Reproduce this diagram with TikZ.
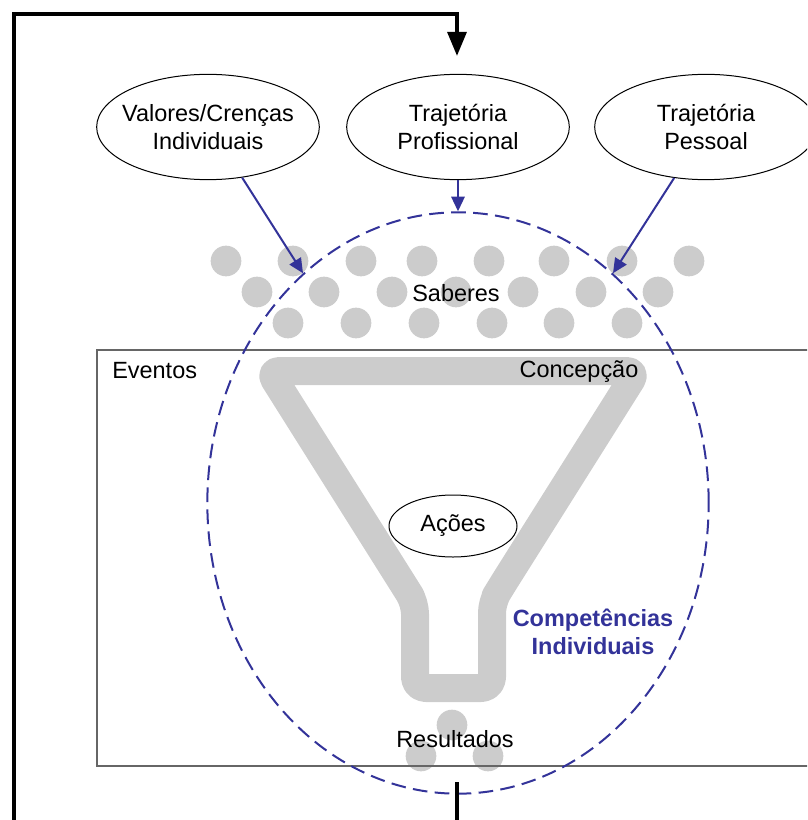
\documentclass[tikz,border=0pt]{standalone}
\usepackage{fontspec}
\setmainfont{Liberation Sans}
\usetikzlibrary{shapes.geometric,arrows.meta}
\definecolor{compblue}{HTML}{333399}
\definecolor{dotgray}{HTML}{CCCCCC}
\definecolor{boxgray}{HTML}{666666}

\begin{document}
\begin{tikzpicture}[
    x=0.75pt, y=-0.75pt,
    every node/.style={font=\fontsize{17.6}{21}\selectfont},
    oval/.style={ellipse, draw=black, line width=0.75pt, fill=white,
        minimum width=167pt, minimum height=79pt, inner xsep=-8pt, inner ysep=0pt, align=center},
    dot/.style={circle, fill=dotgray, minimum size=23pt, inner sep=0pt},
    funnel/.style={draw=dotgray, line width=21pt, line join=round, rounded corners=8pt},
    boxline/.style={draw=boxgray, line width=1pt},
    compline/.style={ellipse, draw=compblue, line width=1.5pt,
        dash pattern=on 11pt off 5.5pt, minimum width=376pt, minimum height=436pt},
    bluearrow/.style={draw=compblue, line width=1.5pt, -{Triangle[length=11pt, width=10pt]}},
    feedback/.style={draw=black, line width=3pt, -{Triangle[length=18pt, width=14pt]}}
]
    \useasboundingbox (0,0) rectangle (807,820);
    \clip (0,0) rectangle (807,820);

    % funil
    \draw[funnel] (269,371) -- (637,371) -- (501,587) -- (492,602) -- (492,688)
        -- (415,688) -- (415,603) -- (405,587) -- cycle;

    % saberes
    \foreach \x in {226,293,361,422,489,554,622,689}
        \node[dot] at (\x,261) {};
    \foreach \x in {257,324,392,456,523,591,658}
        \node[dot] at (\x,292) {};
    \foreach \x in {288,356,424,492,559,627}
        \node[dot] at (\x,323) {};
    \node (saberes) at (456,293) {Saberes};

    % resultados
    \node[dot] at (452,725) {};
    \node[dot] at (421,756) {};
    \node[dot] at (488,756) {};
    \node (resultados) at (455,739) {Resultados};

    % eventos
    \draw[boxline] (97,350) rectangle (850,766);
    \node[anchor=west, inner sep=0pt] (eventos) at (112,371) {Eventos};
    \node (concepcao) at (579,372) {Concepção};
    \node[oval, minimum width=96pt, minimum height=46.5pt] (acoes) at (453,526) {Ações};
    \node[text=compblue, font=\fontsize{17.6}{21}\selectfont\bfseries, align=center]
        (competencias) at (593,632) {Competências\\Individuais};

    % entradas
    \node[oval] (valores) at (208,127) {Valores/Crenças\\Individuais};
    \node[oval] (profissional) at (458,127) {Trajetória\\Profissional};
    \node[oval] (pessoal) at (706,127) {Trajetória\\Pessoal};

    \node[compline] (comp) at (458,503) {};

    \draw[bluearrow] (valores.-56) -- (comp.124);
    \draw[bluearrow] (profissional.south) -- (comp.north);
    \draw[bluearrow] (pessoal.-122) -- (comp.56);

    % realimentacao
    \coordinate (fbstart) at (457,782);
    \coordinate (fbend) at (457,56);
    \draw[feedback] (fbstart) -- (457,850) -| (14,14) -| (fbend);
\end{tikzpicture}
\end{document}
